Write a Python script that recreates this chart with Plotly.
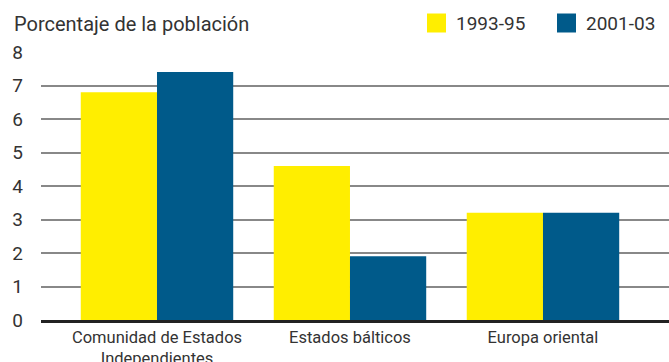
import plotly.graph_objects as go

categories = ["Comunidad de Estados<br>Independientes", "Estados bálticos", "Europa oriental"]
series_names = ["1993-95", "2001-03"]
values_1993 = [6.8, 4.6, 3.2]
values_2001 = [7.4, 1.9, 3.2]
y_ticks = [0, 1, 2, 3, 4, 5, 6, 7, 8]

colors = ["#FFEE00", "#005A8A"]
font_family = "Roboto, 'Liberation Sans Narrow', sans-serif"
text_color = "#333333"

W, H = 669, 362
M_L, M_R, M_T, M_B = 41, 0, 52, 42

fig = go.Figure()
for name, vals, col in zip(series_names, [values_1993, values_2001], colors):
    fig.add_trace(go.Bar(
        x=list(range(len(categories))), y=vals, name=name,
        marker=dict(color=col, line=dict(width=0)), showlegend=False,
    ))

# Legend: square swatch + label for each series, laid out in the top strip
legend_x = [427, 557]  # left edge of each swatch, px
swatch = 19
legend_cy = 23
shapes, annotations = [], []
for name, col, lx in zip(series_names, colors, legend_x):
    shapes.append(dict(
        type="rect", xref="paper", yref="paper", layer="above",
        x0=(lx - M_L) / (W - M_L - M_R), x1=(lx + swatch - M_L) / (W - M_L - M_R),
        y0=(H - M_B - (legend_cy + swatch / 2)) / (H - M_T - M_B),
        y1=(H - M_B - (legend_cy - swatch / 2)) / (H - M_T - M_B),
        fillcolor=col, line=dict(width=0),
    ))
    annotations.append(dict(
        text=name, xref="paper", yref="paper", showarrow=False,
        x=(lx + swatch + 8 - M_L) / (W - M_L - M_R), xanchor="left",
        y=(H - M_B - legend_cy) / (H - M_T - M_B), yanchor="middle",
        font=dict(size=19, color=text_color),
    ))

annotations.append(dict(
    text="Porcentaje de la población", xref="paper", yref="paper",
    x=(12 - M_L) / (W - M_L - M_R), y=(H - M_B - 24) / (H - M_T - M_B),
    xanchor="left", yanchor="middle",
    showarrow=False, font=dict(size=20, color=text_color),
))

fig.update_layout(
    width=W, height=H,
    margin=dict(l=M_L, r=M_R, t=M_T, b=M_B),
    paper_bgcolor="white", plot_bgcolor="white",
    barmode="group", bargap=0.21, bargroupgap=0,
    font=dict(family=font_family, color=text_color),
    showlegend=False,
    shapes=shapes,
    annotations=annotations,
    xaxis=dict(
        tickmode="array", tickvals=list(range(len(categories))), ticktext=categories,
        range=[-0.601, 2.653], showgrid=False, zeroline=False,
        showline=True, linecolor="#222222", linewidth=3, automargin=False,
        ticks="", tickfont=dict(size=16.5, color=text_color),
    ),
    yaxis=dict(
        range=[0, 8], tickvals=y_ticks, showgrid=True, gridcolor="#888888", gridwidth=2,
        zeroline=False, showline=False, ticks="", automargin=False,
        tickfont=dict(size=19, color=text_color), ticklabelstandoff=17,
    ),
)

fig.write_html("out.html")
